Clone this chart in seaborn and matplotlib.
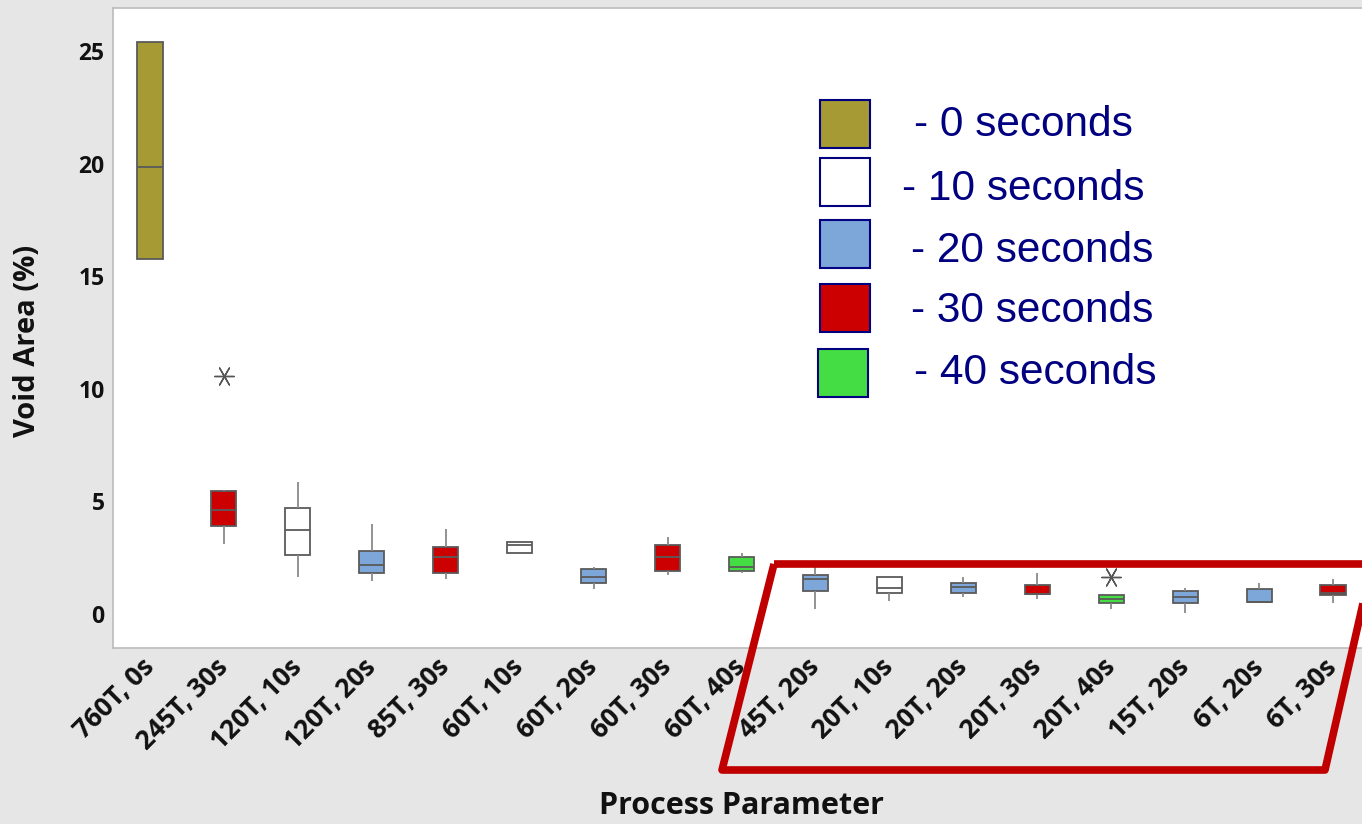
import numpy as np
import pandas as pd
import matplotlib
matplotlib.use("Agg")
import matplotlib.pyplot as plt
from matplotlib.patches import Rectangle, Polygon
import seaborn as sns

# ---------------- data ----------------
categories = ['760T, 0s', '245T, 30s', '120T, 10s', '120T, 20s', '85T, 30s',
              '60T, 10s', '60T, 20s', '60T, 30s', '60T, 40s', '45T, 20s',
              '20T, 10s', '20T, 20s', '20T, 30s', '20T, 40s', '15T, 20s',
              '6T, 20s', '6T, 30s']
dwell_s = [0, 30, 10, 20, 30, 10, 20, 30, 40, 20, 10, 20, 30, 40, 20, 20, 30]
whisker_low = [15.76, 3.09, 1.64, 1.48, 1.55, 2.72, 1.10, 1.73, 1.83, 0.21, 0.56, 0.74, 0.65, 0.20, 0.03, 0.55, 0.47]
q1 =          [15.76, 3.91, 2.63, 1.81, 1.81, 2.72, 1.36, 1.91, 1.91, 1.00, 0.92, 0.92, 0.90, 0.47, 0.47, 0.55, 0.83]
median =      [19.85, 4.62, 3.72, 2.18, 2.54, 3.08, 1.64, 2.54, 2.10, 1.54, 1.17, 1.18, 0.90, 0.67, 0.75, 0.55, 0.92]
q3 =          [25.40, 5.45, 4.72, 2.81, 2.99, 3.18, 2.00, 3.08, 2.53, 1.72, 1.64, 1.36, 1.29, 0.84, 1.00, 1.10, 1.27]
whisker_high = [25.40, 5.52, 5.88, 3.98, 3.79, 3.18, 2.07, 3.43, 2.69, 2.20, 1.64, 1.63, 1.81, 0.84, 1.17, 1.36, 1.54]
outlier_cats = ['245T, 30s', '20T, 40s']
outlier_vals = [10.58, 1.63]

legend_labels = ['- 0 seconds', '- 10 seconds', '- 20 seconds', '- 30 seconds', '- 40 seconds']
legend_dwell = [0, 10, 20, 30, 40]
y_ticks = [0, 5, 10, 15, 20, 25]

# ---------------- style ----------------
colors = {0: '#A59A34', 10: '#FFFFFF', 20: '#7DA7D9', 30: '#CC0000', 40: '#44DD44'}
W, H = 1362, 824
sns.set_theme(style='white')
plt.rcParams['font.family'] = ['Open Sans', 'DejaVu Sans']

# long-form table built from the five-number summaries
rows = []
for c, d, lo, a, m, b, hi in zip(categories, dwell_s, whisker_low, q1, median, q3, whisker_high):
    for v in [lo, a, a, m, m, m, b, b, hi]:
        rows.append({'cat': c, 'dwell': str(d), 'val': v})
df = pd.DataFrame(rows)
pal = {str(k): v for k, v in colors.items()}

fig = plt.figure(figsize=(W / 100, H / 100), dpi=100, facecolor='#E6E6E6')

def fx(px):
    return px / W

def fy(py):
    return 1 - py / H

ax_l, ax_r, ax_t, ax_b = 113, 1370, 8, 648
ax = fig.add_axes([fx(ax_l), fy(ax_b), fx(ax_r - ax_l), (ax_b - ax_t) / H])
ax.set_facecolor('white')

sns.boxplot(data=df, x='cat', y='val', hue='dwell', order=categories,
            palette=pal, saturation=1, dodge=False, width=0.34, legend=False,
            showfliers=False, linecolor='#5A5A5A', linewidth=1.3,
            whiskerprops={'color': '#8A8A8A', 'linewidth': 1.3},
            capprops={'linewidth': 0},
            medianprops={'color': '#5A5A5A', 'linewidth': 1.3},
            ax=ax)

sns.stripplot(x=outlier_cats, y=outlier_vals, order=categories, jitter=False,
              marker=(6, 2, 90), size=14, linewidth=1.0, color='#555555',
              edgecolor='#555555', ax=ax)

ax.set_xlim(-0.5, 16.5)
ax.set_ylim(-1.51, 26.91)
ax.set_yticks(y_ticks)
ax.set_yticklabels([str(t) for t in y_ticks])

for s in ax.spines.values():
    s.set_color('#BBBBBB')
    s.set_linewidth(1.2)
ax.tick_params(axis='both', which='both', direction='out', length=5, width=1.2,
               color='#AAAAAA', labelcolor='#111111')
ax.tick_params(axis='x', pad=6, labelsize=19)
ax.tick_params(axis='y', pad=1, labelsize=16.5)
for lab in ax.get_yticklabels():
    lab.set_fontweight('bold')
for lab in ax.get_xticklabels():
    lab.set_fontweight('bold')
    lab.set_rotation(45)
    lab.set_ha('right')
    lab.set_va('center')
    lab.set_rotation_mode('anchor')

ax.set_xlabel('')
ax.set_ylabel('')
fig.text(fx(28), fy(341), 'Void Area (%)', rotation=90, ha='center', va='center',
         fontsize=21, fontweight='bold', color='#111111')
fig.text(fx(741), fy(806), 'Process Parameter', ha='center', va='center',
         fontsize=22, fontweight='bold', color='#111111')

# ---------------- legend drawn as patches + text ----------------
patch_boxes = [(820, 100), (820, 158), (820, 220), (820, 284), (818, 349)]
text_pos = [(914, 136), (902, 200), (911, 262), (911, 322), (914, 384)]
for (px, py), d in zip(patch_boxes, legend_dwell):
    fig.add_artist(Rectangle((fx(px), fy(py + 48)), 50 / W, 48 / H,
                             transform=fig.transFigure, facecolor=colors[d],
                             edgecolor='#000080', linewidth=1.5))
for (tx, ty), lab in zip(text_pos, legend_labels):
    fig.text(fx(tx), fy(ty), lab, ha='left', va='baseline', fontsize=30.5,
             color='#000080', family=['Liberation Sans', 'DejaVu Sans'])

# ---------------- red highlight frame ----------------
frame = [(774, 564), (1372, 564), (1325, 770), (722, 770)]
fig.add_artist(Polygon([(fx(x), fy(y)) for x, y in frame], closed=True,
                       transform=fig.transFigure, fill=False,
                       edgecolor='#C00000', linewidth=5.5, joinstyle='round'))

fig.savefig('out.png', dpi=100, facecolor=fig.get_facecolor())
